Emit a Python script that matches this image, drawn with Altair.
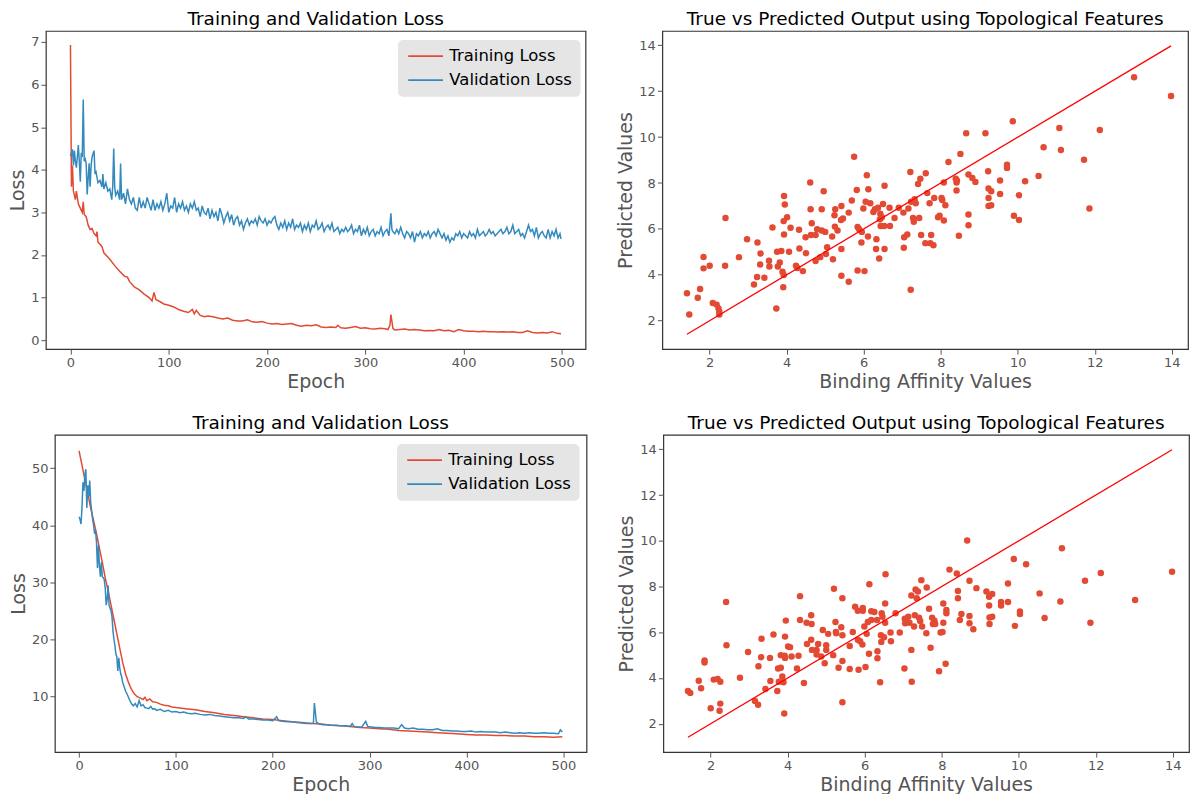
import altair as alt
import pandas as pd

FONT = "DejaVu Sans"
RED = "#E24A33"
BLUE = "#348ABD"
SERIES = ["Training Loss", "Validation Loss"]

# ---------------- Top-left: loss curves ----------------
tl_train_epoch = [0, 1, 2, 3, 4, 5, 6, 8, 10, 12, 13, 14, 16, 18, 20, 22, 24, 26, 27, 28, 30, 32, 34, 36, 38, 40,
                  45, 50, 55, 58, 60, 65, 70, 75, 80, 83, 85, 87, 90, 95, 100, 105, 110, 115, 120, 124, 126, 128,
                  132, 136, 140, 145, 150, 155, 160, 165, 170, 175, 180, 185, 190, 195, 200, 205, 210, 215, 220,
                  225, 230, 235, 240, 245, 250, 255, 260, 265, 270, 272, 275, 280, 285, 290, 295, 300, 305, 310,
                  315, 320, 323, 325, 326, 327, 328, 330, 335, 340, 345, 350, 355, 360, 365, 370, 375, 380, 385,
                  390, 395, 400, 405, 410, 415, 420, 425, 430, 435, 440, 445, 450, 455, 460, 465, 470, 475, 480,
                  485, 490, 495, 499]
tl_train_loss = [6.93, 3.6, 4.1, 3.5, 3.4, 3.3, 3.5, 3.2, 3.1, 3.0, 3.25, 2.95, 2.9, 2.7, 2.6, 2.62, 2.5, 2.45, 2.55,
                 2.3, 2.25, 2.2, 2.05, 2.0, 1.95, 1.9, 1.75, 1.62, 1.5, 1.48, 1.38, 1.25, 1.18, 1.08, 1.0, 0.92, 1.12,
                 0.95, 0.92, 0.85, 0.82, 0.78, 0.72, 0.68, 0.65, 0.72, 0.62, 0.7, 0.58, 0.55, 0.57, 0.55, 0.52, 0.5,
                 0.52, 0.47, 0.45, 0.45, 0.48, 0.43, 0.42, 0.44, 0.4, 0.38, 0.39, 0.37, 0.38, 0.39, 0.35, 0.33, 0.35,
                 0.34, 0.36, 0.31, 0.3, 0.31, 0.3, 0.35, 0.29, 0.28, 0.3, 0.32, 0.28, 0.29, 0.27, 0.26, 0.28, 0.27,
                 0.25, 0.35, 0.6, 0.45, 0.28, 0.24, 0.25, 0.26, 0.24, 0.25, 0.24, 0.22, 0.23, 0.22, 0.25, 0.22, 0.23,
                 0.2, 0.25, 0.22, 0.21, 0.21, 0.2, 0.21, 0.2, 0.2, 0.19, 0.2, 0.19, 0.2, 0.18, 0.18, 0.22, 0.18, 0.17,
                 0.18, 0.17, 0.2, 0.16, 0.15]
tl_val_epoch = [0, 1, 2, 3, 4, 5, 6, 7, 8, 9, 10, 11, 12, 13, 14, 15, 16, 17, 18, 19, 20, 21, 22, 24, 25, 26, 28, 30,
                32, 33, 34, 36, 38, 40, 42, 43, 44, 45, 46, 48, 50, 51, 52, 54, 56, 58, 60, 62, 64, 66, 68, 70, 72,
                74, 76, 78, 80, 82, 84, 86, 88, 90, 92, 94, 96, 98, 100, 102, 104, 106, 108, 110, 112, 114, 116, 118,
                120, 122, 124, 126, 128, 130, 132, 134, 136, 138, 140, 142, 144, 146, 148, 150, 152, 154, 156, 158,
                160, 162, 164, 166, 168, 170, 172, 174, 176, 178, 180, 182, 184, 186, 188, 190, 192, 194, 196, 198,
                200, 202, 204, 206, 208, 210, 212, 214, 216, 218, 220, 222, 224, 226, 228, 230, 232, 234, 236, 238,
                240, 242, 244, 246, 248, 250, 252, 254, 256, 258, 260, 262, 264, 266, 268, 270, 272, 274, 276, 278,
                280, 282, 284, 286, 288, 290, 292, 294, 296, 298, 300, 302, 304, 306, 308, 310, 312, 314, 316, 318,
                320, 322, 324, 326, 327, 328, 330, 332, 334, 336, 338, 340, 342, 344, 346, 348, 350, 352, 354, 356,
                358, 360, 362, 364, 366, 368, 370, 372, 374, 376, 378, 380, 382, 384, 386, 388, 390, 392, 394, 396,
                398, 400, 402, 404, 406, 408, 410, 412, 414, 416, 418, 420, 422, 424, 426, 428, 430, 432, 434, 436,
                438, 440, 442, 444, 446, 448, 450, 452, 454, 456, 458, 460, 462, 464, 466, 468, 470, 472, 474, 476,
                478, 480, 482, 484, 486, 488, 490, 492, 494, 496, 498, 499]
tl_val_loss = [4.32, 4.4, 4.48, 4.1, 4.45, 4.2, 4.05, 4.3, 4.58, 4.2, 3.72, 4.4, 4.3, 5.65, 4.2, 4.25, 4.15, 3.42,
               3.8, 4.15, 3.6, 4.1, 4.3, 4.45, 3.9, 3.95, 3.7, 3.75, 3.6, 3.9, 3.55, 3.7, 3.5, 3.55, 3.3, 3.6, 4.5,
               3.6, 3.4, 3.5, 3.3, 4.15, 3.3, 3.45, 3.2, 3.55, 3.3, 3.2, 3.35, 3.1, 3.05, 3.35, 3.1, 3.25, 3.1, 3.35,
               3.2, 3.05, 3.3, 3.05, 3.2, 3.1, 3.25, 3.05, 3.2, 3.45, 3.0, 3.15, 3.1, 3.35, 3.0, 3.2, 3.1, 3.25, 3.05,
               3.15, 3.0, 3.2, 3.1, 3.25, 3.05, 3.1, 2.9, 3.15, 3.0, 2.95, 3.1, 2.85, 3.05, 2.9, 3.0, 2.8, 3.1, 2.95,
               2.75, 2.9, 3.0, 2.8, 2.95, 2.7, 2.85, 2.9, 2.7, 2.8, 2.6, 2.75, 2.85, 2.7, 2.8, 2.75, 2.85, 2.7, 2.9,
               2.8, 2.75, 2.85, 2.7, 2.8, 2.75, 2.85, 2.9, 2.7, 2.6, 2.75, 2.65, 2.8, 2.6, 2.75, 2.65, 2.85, 2.6, 2.7,
               2.65, 2.75, 2.55, 2.7, 2.6, 2.75, 2.55, 2.7, 2.65, 2.8, 2.6, 2.65, 2.75, 2.55, 2.65, 2.7, 2.6, 2.75,
               2.55, 2.6, 2.65, 2.5, 2.6, 2.55, 2.65, 2.55, 2.6, 2.7, 2.5, 2.6, 2.55, 2.7, 2.45, 2.6, 2.5, 2.65, 2.45,
               2.55, 2.6, 2.45, 2.55, 2.5, 2.65, 2.45, 2.55, 2.6, 2.45, 2.98, 2.6, 2.55, 2.5, 2.6, 2.5, 2.65, 2.5,
               2.4, 2.55, 2.5, 2.4, 2.55, 2.3, 2.5, 2.45, 2.55, 2.4, 2.5, 2.45, 2.55, 2.4, 2.5, 2.55, 2.45, 2.6, 2.5,
               2.4, 2.5, 2.35, 2.45, 2.3, 2.4, 2.35, 2.5, 2.45, 2.55, 2.4, 2.5, 2.45, 2.4, 2.55, 2.45, 2.5, 2.4, 2.6,
               2.45, 2.5, 2.55, 2.45, 2.5, 2.6, 2.5, 2.55, 2.45, 2.5, 2.55, 2.6, 2.5, 2.55, 2.65, 2.5, 2.55, 2.7,
               2.5, 2.55, 2.6, 2.45, 2.5, 2.4, 2.55, 2.7, 2.55, 2.6, 2.45, 2.65, 2.4, 2.5, 2.55, 2.45, 2.4, 2.6, 2.4,
               2.55, 2.45, 2.6, 2.4, 2.5, 2.38]

# ---------------- Bottom-left: loss curves ----------------
bl_train_epoch = [0, 3, 6, 9, 12, 15, 18, 21, 24, 27, 30, 33, 36, 39, 42, 45, 48, 51, 54, 57, 60, 63, 66, 68, 70, 73,
                  76, 80, 84, 88, 92, 96, 100, 110, 120, 130, 140, 150, 160, 170, 180, 190, 200, 210, 220, 230, 240,
                  250, 260, 270, 280, 290, 300, 310, 320, 330, 340, 350, 360, 370, 380, 390, 400, 410, 420, 430, 440,
                  450, 460, 470, 480, 490, 499]
bl_train_loss = [53.0, 50.5, 48.0, 45.5, 43.0, 40.8, 38.5, 36.0, 33.5, 30.8, 28.5, 26.0, 23.5, 21.0, 18.5, 16.0, 14.0,
                 12.5, 11.3, 10.5, 10.0, 9.8, 9.5, 9.9, 9.3, 9.6, 9.1, 9.0, 8.7, 8.5, 8.4, 8.2, 8.1, 7.9, 7.7, 7.4,
                 7.2, 6.9, 6.7, 6.5, 6.3, 6.1, 6.0, 5.8, 5.6, 5.5, 5.3, 5.2, 5.0, 4.9, 4.8, 4.6, 4.5, 4.4, 4.3, 4.1,
                 4.0, 3.9, 3.8, 3.7, 3.6, 3.5, 3.4, 3.3, 3.3, 3.2, 3.2, 3.1, 3.1, 3.0, 3.0, 2.9, 3.0]
bl_val_epoch = [0, 1, 2, 3, 4, 5, 6, 7, 8, 9, 10, 11, 12, 13, 14, 15, 16, 17, 18, 19, 20, 21, 22, 23, 24, 25, 26, 27,
                28, 29, 30, 31, 32, 33, 34, 35, 36, 37, 38, 39, 40, 41, 42, 43, 44, 45, 46, 48, 50, 52, 54, 56, 58,
                60, 62, 64, 66, 68, 70, 72, 74, 76, 78, 80, 84, 88, 92, 96, 100, 104, 108, 112, 116, 120, 125, 130,
                135, 140, 145, 150, 155, 160, 165, 170, 172, 175, 180, 185, 190, 195, 200, 204, 206, 210, 215, 220,
                225, 230, 235, 240, 242, 243, 245, 248, 252, 256, 260, 265, 270, 275, 280, 282, 284, 288, 292, 296,
                298, 302, 306, 310, 315, 320, 325, 330, 333, 336, 340, 345, 350, 355, 360, 365, 370, 375, 380, 385,
                390, 395, 400, 405, 410, 415, 420, 425, 430, 435, 440, 445, 450, 455, 460, 465, 470, 475, 480, 485,
                490, 495, 497, 499]
bl_val_loss = [41.5, 41.0, 40.2, 43.0, 47.5, 46.0, 48.8, 49.8, 43.0, 47.0, 45.0, 47.8, 44.0, 42.5, 41.0, 40.0, 38.5,
               39.0, 37.0, 32.5, 36.5, 33.0, 31.0, 33.5, 31.0, 30.8, 30.5, 29.0, 26.0, 27.0, 29.5, 26.0, 25.5, 25.0,
               24.0, 21.5, 20.0, 19.0, 17.5, 17.0, 14.5, 16.8, 15.0, 14.0, 13.5, 12.5, 12.0, 11.0, 10.3, 9.5, 8.8,
               8.4, 8.8, 8.2, 9.3, 8.4, 8.6, 8.1, 8.0, 7.9, 8.3, 7.8, 7.9, 7.6, 7.8, 7.4, 7.6, 7.3, 7.4, 7.2, 7.3,
               7.1, 7.0, 7.1, 6.9, 6.8, 6.9, 6.7, 6.6, 6.5, 6.4, 6.3, 6.3, 6.2, 6.5, 6.1, 6.1, 6.0, 5.9, 5.9, 5.8,
               6.5, 5.8, 5.7, 5.6, 5.6, 5.5, 5.4, 5.3, 5.3, 5.4, 8.9, 5.6, 5.2, 5.1, 5.1, 5.0, 5.0, 4.9, 4.9, 4.8,
               5.3, 4.8, 4.7, 4.7, 5.7, 4.8, 4.7, 4.6, 4.6, 4.5, 4.5, 4.5, 4.4, 5.1, 4.5, 4.4, 4.5, 4.3, 4.3, 4.2,
               4.2, 4.4, 4.1, 4.1, 4.0, 4.0, 3.9, 3.9, 4.0, 3.8, 3.9, 3.8, 3.8, 3.8, 3.7, 3.8, 3.7, 3.6, 3.7, 3.6,
               3.7, 3.6, 3.6, 3.7, 3.6, 3.6, 3.5, 4.2, 3.8]

# ---------------- Top-right: true vs predicted ----------------
tr_true = [1.41, 1.47, 1.69, 1.75, 1.84, 1.84, 2.0, 2.08, 2.18, 2.23, 2.25, 2.25, 2.41, 2.40, 2.76, 2.97, 3.15, 3.23,
           3.24, 3.31, 3.32, 3.42, 3.54, 3.55, 3.63, 3.73, 3.75, 3.77, 3.82, 3.86, 3.89, 3.91, 3.92, 3.93, 3.92, 3.93,
           3.95, 4.01, 4.06, 4.10, 4.24, 4.28, 4.32, 4.33, 4.42, 4.50, 4.49, 4.61, 4.62, 4.63, 4.65, 4.75, 4.75, 4.79,
           4.87, 4.91, 4.91, 4.96, 5.0, 5.02, 5.05, 5.18, 5.2, 5.24, 5.26, 5.25, 5.32, 5.41, 5.42, 5.42, 5.42, 5.46,
           5.61, 5.61, 5.69, 5.75, 5.82, 5.84, 5.84, 5.88, 5.94, 5.95, 5.99, 6.02, 6.05, 6.08, 6.11, 6.12, 6.17, 6.25,
           6.29, 6.32, 6.33, 6.37, 6.40, 6.42, 6.43, 6.44, 6.47, 6.50, 6.53, 6.54, 6.54, 6.67, 6.68, 6.80, 6.91, 7.03,
           7.04, 7.05, 7.13, 7.16, 7.21, 7.22, 7.23, 7.28, 7.30, 7.32, 7.35, 7.41, 7.44, 7.47, 7.49, 7.60, 7.61, 7.65,
           7.71, 7.73, 7.75, 7.81, 7.83, 7.93, 7.97, 8.02, 8.04, 8.08, 8.08, 8.12, 8.20, 8.39, 8.41, 8.41, 8.42, 8.47,
           8.51, 8.66, 8.72, 8.72, 8.72, 8.82, 8.90, 9.16, 9.23, 9.24, 9.24, 9.24, 9.31, 9.31, 9.54, 9.54, 9.72, 9.72,
           9.87, 9.90, 10.03, 10.03, 10.19, 10.54, 10.67, 11.08, 11.12, 11.72, 11.86, 12.13, 13.02, 13.98]
tr_pred = [3.2, 2.27, 3.0, 3.38, 4.78, 4.28, 4.39, 2.77, 2.7, 2.53, 2.39, 2.27, 6.48, 4.39, 4.77, 5.55, 3.58, 3.9,
           5.41, 4.45, 4.93, 3.87, 4.61, 4.36, 6.06, 2.53, 5.0, 4.36, 4.54, 5.04, 4.13, 3.46, 3.99, 7.43, 6.34, 5.76,
           7.06, 6.51, 5.0, 6.05, 4.39, 4.3, 5.96, 5.15, 4.16, 4.94, 5.64, 8.02, 6.86, 5.73, 6.25, 4.6, 5.73, 5.99,
           4.77, 6.86, 5.93, 7.64, 5.87, 4.91, 5.2, 5.67, 4.68, 6.6, 6.86, 6.1, 5.93, 6.39, 7.0, 3.96, 5.12, 6.45,
           6.71, 3.7, 7.24, 9.15, 7.7, 4.19, 6.08, 5.99, 5.41, 5.87, 6.89, 4.16, 7.18, 8.34, 5.67, 7.73, 7.12, 6.74,
           6.86, 5.12, 5.55, 6.92, 4.71, 6.42, 6.66, 6.13, 6.51, 7.09, 6.13, 5.12, 7.88, 6.92, 6.13, 6.48, 6.92, 6.71,
           5.18, 5.64, 5.76, 6.89, 8.48, 3.35, 7.18, 6.48, 6.31, 7.29, 7.12, 7.96, 6.48, 8.19, 5.73, 5.38, 8.43, 7.56,
           7.12, 5.38, 5.73, 5.29, 7.35, 6.51, 6.57, 7.35, 7.26, 8.02, 6.37, 7.03, 8.92, 8.19, 8.02, 7.67, 8.11, 5.7,
           9.27, 10.17, 8.37, 6.63, 6.16, 8.22, 8.05, 10.17, 8.51, 7.76, 7.35, 7.0, 7.64, 7.03, 8.11, 7.52, 8.8, 8.66,
           10.69, 6.57, 7.47, 6.39, 8.08, 8.31, 9.56, 10.4, 9.44, 9.01, 6.89, 10.31, 12.61, 11.79]

# ---------------- Bottom-right: true vs predicted ----------------
br_true = [1.41, 1.47, 1.69, 1.75, 1.84, 1.84, 2.0, 2.08, 2.18, 2.25, 2.25, 2.23, 2.40, 2.41, 2.76, 2.97, 3.15, 3.23,
           3.24, 3.32, 3.31, 3.42, 3.54, 3.55, 3.63, 3.73, 3.75, 3.77, 3.82, 3.82, 3.86, 3.89, 3.91, 3.92, 3.93, 3.95,
           3.93, 4.01, 4.06, 4.10, 4.24, 4.28, 4.32, 4.32, 4.42, 4.49, 4.50, 4.61, 4.61, 4.63, 4.62, 4.75, 4.75, 4.79,
           4.87, 4.91, 4.96, 5.0, 5.0, 5.05, 5.18, 5.2, 5.24, 5.25, 5.26, 5.32, 5.39, 5.42, 5.42, 5.42, 5.42, 5.61,
           5.61, 5.69, 5.75, 5.82, 5.82, 5.84, 5.88, 5.94, 5.95, 5.95, 5.99, 6.02, 6.05, 6.08, 6.11, 6.12, 6.17, 6.17,
           6.25, 6.32, 6.33, 6.33, 6.40, 6.42, 6.43, 6.44, 6.46, 6.50, 6.53, 6.54, 6.53, 6.67, 6.68, 6.80, 6.91, 7.03,
           7.04, 7.05, 7.13, 7.16, 7.21, 7.22, 7.21, 7.28, 7.32, 7.30, 7.35, 7.38, 7.41, 7.44, 7.47, 7.49, 7.60, 7.61,
           7.67, 7.71, 7.75, 7.77, 7.81, 7.83, 7.93, 7.97, 8.02, 8.04, 8.04, 8.10, 8.12, 8.12, 8.20, 8.39, 8.42, 8.42,
           8.47, 8.51, 8.66, 8.72, 8.72, 8.72, 8.82, 8.90, 9.16, 9.23, 9.23, 9.24, 9.24, 9.31, 9.31, 9.54, 9.54, 9.72,
           9.72, 9.87, 9.90, 10.03, 10.03, 10.19, 10.54, 10.67, 11.08, 11.12, 11.72, 11.86, 12.13, 13.02, 13.98]
br_pred = [3.43, 3.35, 3.88, 3.55, 4.77, 4.68, 2.68, 3.93, 3.96, 3.84, 2.88, 2.57, 7.32, 5.43, 4.01, 5.14, 3.0, 2.83,
           4.51, 5.72, 4.91, 3.52, 4.88, 3.87, 5.9, 3.43, 4.42, 3.84, 4.45, 5.0, 4.07, 3.81, 2.45, 4.97, 5.81, 6.51,
           4.88, 5.38, 5.35, 4.94, 4.42, 4.97, 7.58, 6.54, 3.78, 6.42, 5.49, 6.74, 5.67, 5.23, 6.36, 5.23, 5.03, 5.49,
           4.94, 6.1, 4.65, 5.43, 5.23, 5.93, 5.0, 7.9, 6.45, 6.01, 5.96, 4.45, 6.22, 7.49, 5.87, 2.94, 4.74, 5.4,
           4.39, 6.01, 7.12, 6.94, 5.67, 4.36, 5.61, 5.46, 7.06, 6.94, 6.25, 4.48, 5.93, 6.45, 5.06, 8.1, 6.92, 6.54,
           6.89, 6.54, 5.17, 4.86, 3.81, 5.87, 5.58, 6.83, 6.68, 5.78, 7.26, 8.54, 6.42, 5.99, 5.61, 6.83, 5.99, 4.42,
           6.59, 6.39, 6.68, 6.42, 5.23, 3.84, 7.61, 6.25, 7.87, 6.74, 7.49, 7.78, 6.64, 6.49, 8.28, 6.25, 5.96, 7.96,
           7.03, 5.32, 6.64, 6.36, 6.51, 6.36, 4.3, 5.99, 6.01, 7.26, 6.42, 4.62, 6.83, 6.97, 8.74, 8.57, 7.81, 7.49,
           6.54, 6.8, 10.01, 8.25, 6.71, 6.39, 6.13, 7.93, 7.78, 7.55, 7.17, 6.65, 6.36, 7.67, 6.68, 7.32, 7.17, 8.13,
           7.32, 9.2, 6.28, 6.91, 6.8, 8.97, 7.7, 6.62, 7.35, 9.67, 8.25, 6.42, 8.59, 7.41, 8.65]


def loss_df(tr_e, tr_l, va_e, va_l):
    a = pd.DataFrame({"epoch": tr_e, "loss": tr_l, "series": SERIES[0]})
    b = pd.DataFrame({"epoch": va_e, "loss": va_l, "series": SERIES[1]})
    return pd.concat([a, b], ignore_index=True)


def loss_panel(df, ydom, yticks, w, h, legend_x):
    return alt.Chart(df).mark_line(strokeWidth=1.5, clip=True).encode(
        x=alt.X("epoch:Q", title="Epoch",
                scale=alt.Scale(domain=[-25, 524], nice=False, zero=False),
                axis=alt.Axis(values=[0, 100, 200, 300, 400, 500])),
        y=alt.Y("loss:Q", title="Loss",
                scale=alt.Scale(domain=ydom, nice=False, zero=False),
                axis=alt.Axis(values=yticks)),
        color=alt.Color("series:N",
                        scale=alt.Scale(domain=SERIES, range=[RED, BLUE]),
                        legend=alt.Legend(title=None, orient="none",
                                          legendX=legend_x, legendY=9,
                                          fillColor="#E5E5E5", cornerRadius=5, padding=8,
                                          labelFontSize=16.5, labelColor="black", labelFont=FONT,
                                          symbolType="M-1,0H4.8", symbolSize=144,
                                          symbolStrokeWidth=1.8, rowPadding=7, labelOffset=27)),
        order=alt.Order("series:N"),
    ).properties(width=w, height=h, title="Training and Validation Loss")


def scatter_panel(tx, py, w, h):
    df = pd.DataFrame({"true": tx, "pred": py})
    lo, hi = min(tx), max(tx)
    line_df = pd.DataFrame({"true": [lo, hi], "pred": [lo, hi]})
    xs = alt.X("true:Q", title="Binding Affinity Values",
               scale=alt.Scale(domain=[0.77, 14.42], nice=False, zero=False),
               axis=alt.Axis(values=[2, 4, 6, 8, 10, 12, 14]))
    ys = alt.Y("pred:Q", title="Predicted Values",
               scale=alt.Scale(domain=[0.76, 14.63], nice=False, zero=False),
               axis=alt.Axis(values=[2, 4, 6, 8, 10, 12, 14]))
    pts = alt.Chart(df).mark_circle(size=42, color=RED, opacity=1).encode(x=xs, y=ys)
    ln = alt.Chart(line_df).mark_line(color="#FF0000", strokeWidth=1.3).encode(x=xs, y=ys)
    return alt.layer(pts, ln).properties(
        width=w, height=h, title="True vs Predicted Output using Topological Features")


def spacer():
    # invisible 1px cell so each row's left panel is placed by its own full bounds
    return alt.Chart(pd.DataFrame({"v": [0]})).mark_point(size=0, opacity=0).encode(
        x=alt.value(0), y=alt.value(0)
    ).properties(width=1, height=1, view=alt.ViewBackground(stroke=None))


p1 = loss_panel(loss_df(tl_train_epoch, tl_train_loss, tl_val_epoch, tl_val_loss),
                [-0.21, 7.26], [0, 1, 2, 3, 4, 5, 6, 7], 541, 319, 392)
p2 = scatter_panel(tr_true, tr_pred, 527, 319)
p3 = loss_panel(loss_df(bl_train_epoch, bl_train_loss, bl_val_epoch, bl_val_loss),
                [0.3, 55.8], [10, 20, 30, 40, 50], 533, 318, 391)
p4 = scatter_panel(br_true, br_pred, 527, 318)

top = alt.hconcat(alt.hconcat(spacer(), p1, spacing=0), p2, spacing=29)
bottom = alt.hconcat(alt.hconcat(spacer(), p3, spacing=0), p4, spacing=29)

chart = alt.vconcat(top, bottom, spacing=21).resolve_scale(color="independent").resolve_legend(
    color="independent"
).properties(
    padding={"left": 7, "top": 8, "right": 0, "bottom": 0}, background="white"
).configure_view(
    stroke="#333333", strokeWidth=1.2
).configure_axis(
    grid=False, domain=False, labelFont=FONT, labelFontSize=13, labelColor="#555555",
    titleFont=FONT, titleFontSize=19, titleColor="#555555", titleFontWeight="normal",
    tickColor="#555555", tickSize=5, labelPadding=2
).configure_axisX(
    titlePadding=3
).configure_axisY(
    titlePadding=3, minExtent=0
).configure_title(
    font=FONT, fontSize=18.5, fontWeight="normal", color="black", offset=2
)

chart.save("out.html", embed_options={"renderer": "svg", "actions": False})
